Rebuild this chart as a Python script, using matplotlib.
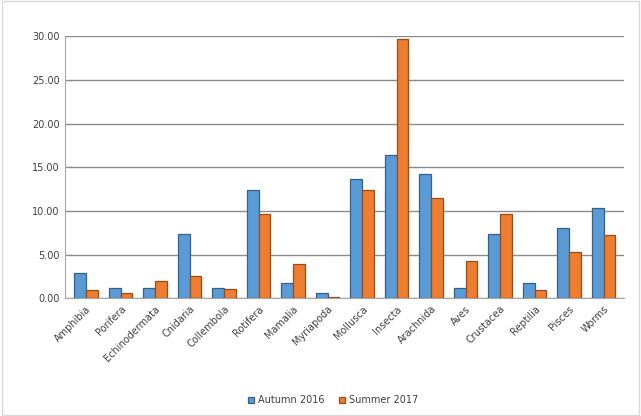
import numpy as np
import matplotlib.pyplot as plt

categories = ["Amphibia", "Porifera", "Echinodermata", "Cnidaria", "Collembola",
              "Rotifera", "Mamalia", "Myriapoda", "Mollusca", "Insecta",
              "Arachnida", "Aves", "Crustacea", "Reptilia", "Pisces", "Worms"]
autumn_2016 = [2.9, 1.2, 1.2, 7.4, 1.2, 12.4, 1.8, 0.6, 13.6, 16.4,
               14.2, 1.2, 7.4, 1.7, 8.0, 10.3]
summer_2017 = [1.0, 0.6, 2.0, 2.5, 1.1, 9.6, 3.9, 0.2, 12.4, 29.7,
               11.5, 4.3, 9.7, 1.0, 5.3, 7.2]

fig = plt.figure(figsize=(6.41, 4.16), dpi=100)
ax = fig.add_axes([0.102, 0.283, 0.872, 0.63])

# light frame around the whole chart
fig.patches.append(plt.Rectangle((0.003, 0.003), 0.994, 0.994, transform=fig.transFigure,
                                 fill=False, edgecolor='#d9d9d9', linewidth=1))

x = np.arange(len(categories))
w = 0.34
ax.bar(x - w / 2, autumn_2016, w, color='#5B9BD5', edgecolor='#35608a',
       linewidth=0.9, label='Autumn 2016', zorder=3)
ax.bar(x + w / 2, summer_2017, w, color='#ED7D31', edgecolor='#9a4d18',
       linewidth=0.9, label='Summer 2017', zorder=3)

ax.set_xlim(-0.6, len(categories) - 0.4)
ax.set_ylim(0, 30)
ax.set_yticks(np.arange(0, 31, 5))
ax.set_yticklabels([f"{v:.2f}" for v in np.arange(0, 31, 5)], fontsize=7, color='#404040')
ax.set_xticks(x)
ax.set_xticklabels(categories, rotation=45, ha='right', rotation_mode='anchor',
                   fontsize=7, color='#404040')
ax.tick_params(axis='both', length=0, pad=4)
ax.yaxis.grid(True, color='#8c8c8c', linewidth=1, zorder=0)
for side in ['top', 'right']:
    ax.spines[side].set_visible(False)
ax.spines['left'].set_color('#a6a6a6')
ax.spines['bottom'].set_color('#a6a6a6')

fig.legend(loc='lower center', bbox_to_anchor=(0.52, 0.005), ncol=2, frameon=False,
           fontsize=7, handlelength=0.6, handleheight=0.6, columnspacing=1.5,
           handletextpad=0.4, labelcolor='#404040')

fig.savefig("out.png", dpi=100)
